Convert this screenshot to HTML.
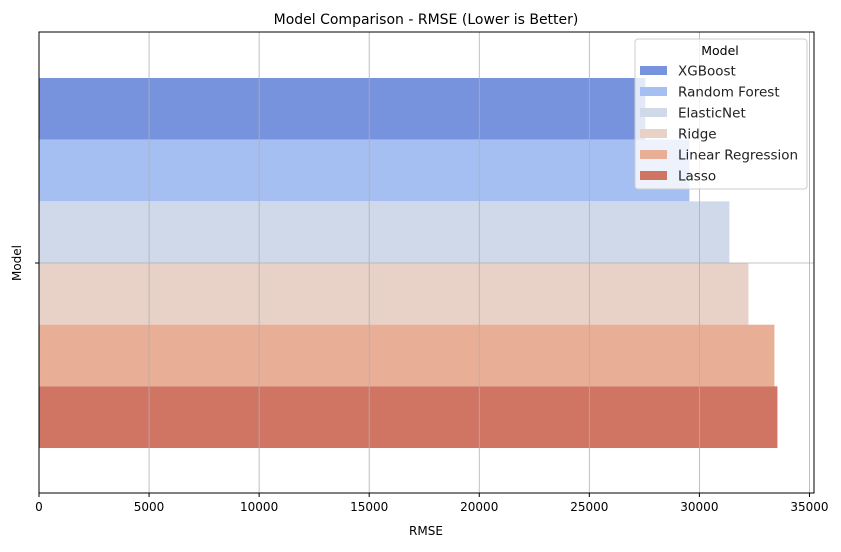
<!DOCTYPE html>
<html><head><meta charset="utf-8"><style>body{margin:0;background:#fff}svg{font-family:"DejaVu Sans","Liberation Sans",sans-serif}</style></head>
<body>
<svg id="c" width="841" height="547" xmlns="http://www.w3.org/2000/svg"></svg>
<script>
const models=["XGBoost","Random Forest","ElasticNet","Ridge","Linear Regression","Lasso"];
const rmse=[27545,29545,31364,32227,33409,33545];
const colors=["#7793dd","#a5bff3","#cfd9ea","#e8d1c6","#e9ae96","#d07563"];
const ticks=[0,5000,10000,15000,20000,25000,30000,35000];
const L=39,R=814,T=32,B=493;
const x=v=>L+v*0.022013;
const y0=78,bh=61.67;
const s=document.getElementById('c');
function el(t,a,txt){const e=document.createElementNS('http://www.w3.org/2000/svg',t);for(const k in a)e.setAttribute(k,a[k]);if(txt!==undefined)e.textContent=txt;s.appendChild(e);return e;}
models.forEach((m,i)=>{const r=el('rect',{x:L,y:y0+i*bh,width:x(rmse[i])-L,height:bh,fill:colors[i]});

});
ticks.forEach(t=>{const g=el('line',{x1:x(t),x2:x(t),y1:T,y2:B,stroke:'#b0b0b0','stroke-width':0.8});


el('line',{x1:x(t),x2:x(t),y1:B,y2:B+4,stroke:'#000'});
const lb=el('text',{x:x(t),y:B+18,'text-anchor':'middle','font-size':12},t);

});
el('line',{x1:L,x2:R,y1:263,y2:263,stroke:'#b0b0b0','stroke-width':0.8});
el('line',{x1:L-4,x2:L,y1:263,y2:263,stroke:'#000'});
const fr=el('rect',{x:L,y:T,width:R-L,height:B-T,fill:'none',stroke:'#000','stroke-width':1});

const tt=el('text',{x:426,y:24,'text-anchor':'middle','font-size':14},'Model Comparison - RMSE (Lower is Better)');

const xt=el('text',{x:426,y:535,'text-anchor':'middle','font-size':12},'RMSE');

const yt=el('text',{x:21,y:263,'text-anchor':'middle','font-size':12,transform:'rotate(-90 21 263)'},'Model');

const lg=el('rect',{x:635,y:39,width:172,height:150,rx:3,fill:'#fff','fill-opacity':0.8,stroke:'#ccc'});

el('text',{x:720,y:55,'text-anchor':'middle','font-size':12.5},'Model');
models.forEach((m,i)=>{const yy=66+i*21;
el('rect',{x:640,y:yy,width:27,height:9,fill:colors[i]});
const t=el('text',{x:678,y:yy+9.5,'font-size':13.5,fill:'#222'},m);

});
</script>
</body></html>
